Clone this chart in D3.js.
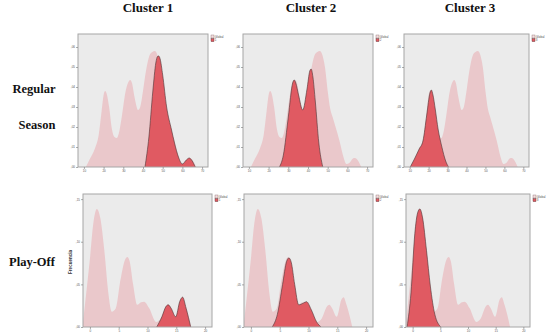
<!DOCTYPE html>
<html>
<head>
<meta charset="utf-8">
<script src="https://cdn.jsdelivr.net/npm/d3@7"></script>
<style>
  body { margin: 0; background: #fff; }
  svg { display: block; }
</style>
</head>
<body>
<div id="chart"></div>
<script>
// Column / row labels
const clusters = ["Cluster 1", "Cluster 2", "Cluster 3"];
const rowLabels = [["Regular", "Season"], ["Play-Off"]];

// Tick values
const regTicksX = [10, 20, 30, 40, 50, 60, 70];
const regTicksY = [0, 0.01, 0.02, 0.03, 0.04, 0.05, 0.06];
const poTicksX = [0, 5, 10, 15, 20];
const poTicksY = [0, 0.05, 0.10, 0.15];

// Overall density (light) - regular season, [value, density]
const regGlobal = [[11,0],[13,0.004],[15.5,0.009],[17.5,0.016],[19,0.028],[20.1,0.0365],[20.8,0.038],[21.6,0.0365],[22.8,0.03],[24.2,0.019],[25.5,0.015],[26.7,0.0145],[28,0.018],[29.5,0.027],[31,0.037],[32.6,0.0425],[33.5,0.0435],[34.4,0.042],[35.7,0.035],[37.5,0.0285],[38.6,0.03],[40,0.038],[41.5,0.048],[43.2,0.0555],[44.7,0.0575],[46,0.058],[47.3,0.056],[48.6,0.05],[50,0.038],[51.3,0.029],[52.5,0.025],[54,0.02],[56,0.013],[58,0.005],[59.5,0.0015],[61,0.002],[62.8,0.0043],[63.8,0.0045],[65.5,0.003],[67,0]];

// Cluster densities - regular season
const regC1 = [[41,0],[43,0.015],[45,0.038],[46.5,0.052],[47.4,0.0553],[48,0.0555],[48.7,0.054],[50,0.046],[52,0.03],[54.5,0.0185],[56,0.012],[58,0.005],[60,0.0015],[62,0.0035],[63.5,0.0045],[65,0.003],[66.5,0]];
const regC2 = [[25.5,0],[27.5,0.006],[30,0.025],[32.2,0.042],[33,0.0435],[33.8,0.042],[35.2,0.036],[37.3,0.0285],[39.5,0.039],[40.9,0.048],[41.6,0.049],[42.5,0.045],[43.7,0.033],[45.5,0.012],[47.5,0]];
const regC3 = [[10.3,0],[12.5,0.004],[15,0.009],[17,0.013],[19,0.026],[20.7,0.037],[21.4,0.0385],[22.3,0.036],[23.5,0.029],[25,0.019],[27,0.01],[29,0.003],[30.5,0]];

// Overall density (light) - play-off
const poGlobal = [[-1.3,0],[-0.8,0.03],[0,0.08],[0.6,0.122],[1.2,0.1385],[1.8,0.128],[2.5,0.09],[3.2,0.04],[3.8,0.018],[4.5,0.022],[5.3,0.055],[6.1,0.079],[6.5,0.082],[6.9,0.077],[7.5,0.05],[8.2,0.026],[8.9,0.029],[9.4,0.0297],[10.3,0.022],[11.5,0.006],[12.3,0.01],[13.2,0.024],[13.6,0.026],[14.1,0.022],[14.9,0.012],[15.7,0.032],[16.1,0.035],[16.6,0.026],[17.6,0]];

// Cluster densities - play-off
const poC1 = [[11.6,0],[12.5,0.012],[13.2,0.024],[13.6,0.026],[14.1,0.022],[14.9,0.012],[15.6,0.03],[16.1,0.035],[16.7,0.022],[17.5,0]];
const poC2 = [[3.7,0],[4.6,0.015],[5.5,0.05],[6.2,0.077],[6.6,0.081],[7.0,0.076],[7.6,0.05],[8.3,0.026],[9.1,0.028],[9.65,0.0297],[10.5,0.02],[11.4,0.006],[12.2,0]];
const poC3 = [[-1,0],[-0.3,0.04],[0.4,0.11],[0.9,0.134],[1.3,0.1385],[1.8,0.128],[2.5,0.09],[3.2,0.048],[4,0.015],[5.1,0]];

const width = 550, height = 333;

const svg = d3.select("#chart")
  .append("svg")
  .attr("width", width)
  .attr("height", height);

// panel frames [x0, x1, y0, y1]
const panels = [
  {row: 0, col: 0, box: [78, 208, 34, 167], global: regGlobal, cluster: regC1},
  {row: 0, col: 1, box: [243, 373, 34, 167], global: regGlobal, cluster: regC2},
  {row: 0, col: 2, box: [404, 529, 34, 167], global: regGlobal, cluster: regC3},
  {row: 1, col: 0, box: [83, 212, 194, 327], global: poGlobal, cluster: poC1},
  {row: 1, col: 1, box: [244, 373, 194, 327], global: poGlobal, cluster: poC2},
  {row: 1, col: 2, box: [406, 530, 194, 327], global: poGlobal, cluster: poC3}
];

const fmt = d => d3.format(".2f")(d).replace("0.", ",");

panels.forEach((p, i) => {
  const [x0, x1, y0, y1] = p.box;
  const reg = p.row === 0;

  const x = d3.scaleLinear()
    .domain(reg ? [7, 73] : [-1.2, 21.2])
    .range([x0, x1]);
  const y = d3.scaleLinear()
    .domain(reg ? [0, 0.0665] : [0, 0.156])
    .range([y1, y0]);

  const g = svg.append("g");

  g.append("clipPath")
      .attr("id", "clip" + i)
    .append("rect")
      .attr("x", x0).attr("y", y0)
      .attr("width", x1 - x0).attr("height", y1 - y0);

  g.append("rect")
    .attr("x", x0).attr("y", y0)
    .attr("width", x1 - x0).attr("height", y1 - y0)
    .attr("fill", "#ebebeb");

  const area = d3.area()
    .x(d => x(d[0]))
    .y0(y(0))
    .y1(d => y(d[1]))
    .curve(d3.curveMonotoneX);

  const line = d3.line()
    .x(d => x(d[0]))
    .y(d => y(d[1]))
    .curve(d3.curveMonotoneX);

  const plot = g.append("g").attr("clip-path", `url(#clip${i})`);

  plot.append("path")
    .datum(p.global)
    .attr("d", area)
    .attr("fill", "#eac8cb");

  plot.append("path")
    .datum(p.cluster)
    .attr("d", area)
    .attr("fill", "#e05a62");

  plot.append("path")
    .datum(p.cluster)
    .attr("d", line)
    .attr("fill", "none")
    .attr("stroke", "#4a3436")
    .attr("stroke-width", 0.6);

  // frame
  g.append("rect")
    .attr("x", x0).attr("y", y0)
    .attr("width", x1 - x0).attr("height", y1 - y0)
    .attr("fill", "none")
    .attr("stroke", "#a6a6a6")
    .attr("stroke-width", 1);

  const xAxis = g.append("g")
    .attr("transform", `translate(0,${y1})`)
    .call(d3.axisBottom(x).tickValues(reg ? regTicksX : poTicksX).tickSize(2).tickPadding(1));
  const yAxis = g.append("g")
    .attr("transform", `translate(${x0},0)`)
    .call(d3.axisLeft(y).tickValues(reg ? regTicksY : poTicksY).tickSize(2).tickPadding(1).tickFormat(fmt));

  [xAxis, yAxis].forEach(a => {
    a.select(".domain").remove();
    a.selectAll("line").attr("stroke", "#777").attr("stroke-width", 0.6);
    a.selectAll("text")
      .attr("fill", "#555")
      .style("font-size", "3px")
      .style("font-family", "Arial, 'Liberation Sans', sans-serif");
  });

  // legend
  const lg = g.append("g").attr("transform", `translate(${x1 + 3},${y0 + 1})`);
  lg.append("rect").attr("x", 0).attr("y", 0).attr("width", 3).attr("height", 3)
    .attr("fill", "#f3dfe0").attr("stroke", "#8a6b6e").attr("stroke-width", 0.4);
  lg.append("rect").attr("x", 0).attr("y", 3.6).attr("width", 3).attr("height", 3)
    .attr("fill", "#e05a62").attr("stroke", "#4a3436").attr("stroke-width", 0.4);
  lg.append("text").attr("x", 3.8).attr("y", 2.6).text("Global")
    .style("font-size", "3px").style("font-family", "Arial, sans-serif").attr("fill", "#555");
  lg.append("text").attr("x", 3.8).attr("y", 6.2).text(String(p.col + 1))
    .style("font-size", "3px").style("font-family", "Arial, sans-serif").attr("fill", "#555");
});

// Column titles
const titleX = [148, 311, 470];
svg.selectAll(".title")
  .data(clusters)
  .join("text")
    .attr("class", "title")
    .attr("x", (d, i) => titleX[i])
    .attr("y", 12)
    .attr("text-anchor", "middle")
    .style("font-family", "'Liberation Serif', 'DejaVu Serif', serif")
    .style("font-weight", "bold")
    .style("font-size", "13px")
    .attr("fill", "#111")
    .text(d => d);

// Row labels
const serif = "'Liberation Serif', 'DejaVu Serif', serif";
svg.append("text").attr("x", 34).attr("y", 93).attr("text-anchor", "middle")
  .style("font-family", serif).style("font-weight", "bold").style("font-size", "12.5px")
  .attr("fill", "#111").text(rowLabels[0][0]);
svg.append("text").attr("x", 37).attr("y", 129).attr("text-anchor", "middle")
  .style("font-family", serif).style("font-weight", "bold").style("font-size", "12.5px")
  .attr("fill", "#111").text(rowLabels[0][1]);
svg.append("text").attr("x", 32).attr("y", 266).attr("text-anchor", "middle")
  .style("font-family", serif).style("font-weight", "bold").style("font-size", "12.5px")
  .attr("fill", "#111").text(rowLabels[1][0]);

// Frecuencia axis title
svg.append("text")
  .attr("transform", "translate(72,262) rotate(-90)")
  .attr("text-anchor", "middle")
  .style("font-family", "Arial, 'Liberation Sans', sans-serif")
  .style("font-size", "4.5px")
  .style("font-weight", "bold")
  .attr("fill", "#333")
  .text("Frecuencia");
</script>
</body>
</html>
